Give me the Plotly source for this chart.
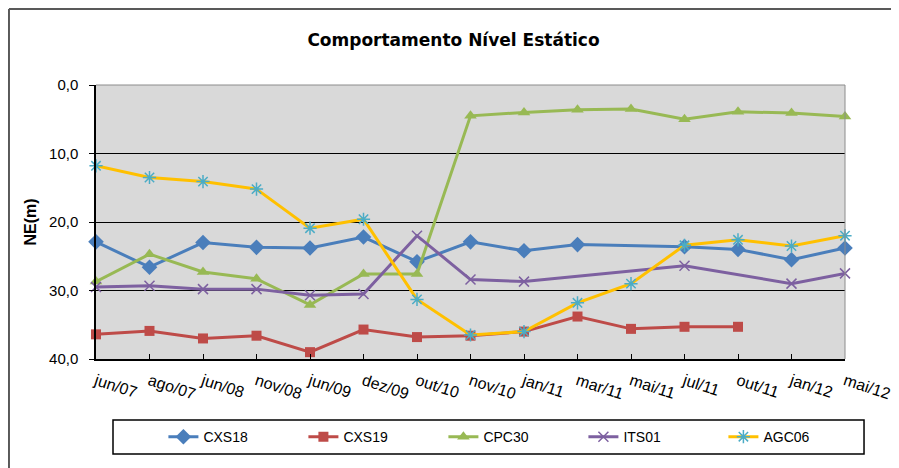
import plotly.graph_objects as go

datas = ['jun/07', 'ago/07', 'jun/08', 'nov/08', 'jun/09', 'dez/09', 'out/10', 'nov/10',
         'jan/11', 'mar/11', 'mai/11', 'jul/11', 'out/11', 'jan/12', 'mai/12']

cxs18 = [22.9, 26.6, 23.0, 23.7, 23.8, 22.2, 25.8, 22.9, 24.2, 23.3, None, 23.6, 24.0, 25.5, 23.8]
cxs19 = [36.4, 35.9, 37.0, 36.6, 39.0, 35.7, 36.8, 36.6, 36.0, 33.8, 35.6, 35.3, 35.3, None, None]
cpc30 = [28.7, 24.7, 27.3, 28.3, 32.1, 27.6, 27.6, 4.5, 4.0, 3.6, 3.5, 5.0, 3.9, 4.1, 4.6]
its01 = [29.5, 29.3, 29.8, 29.8, 30.7, 30.5, 22.0, 28.4, 28.7, None, None, 26.4, None, 29.0, 27.5]
agc06 = [11.8, 13.5, 14.1, 15.2, 20.9, 19.6, 31.3, 36.5, 36.0, 31.8, 29.0, 23.4, 22.6, 23.5, 22.0]

fig = go.Figure()

fig.add_trace(go.Scatter(x=datas, y=cxs18, name='CXS18', mode='lines+markers', connectgaps=True,
    line=dict(color='#4a7ebb', width=3), marker=dict(symbol='diamond', size=12, color='#4a7ebb'),
    cliponaxis=False))
fig.add_trace(go.Scatter(x=datas, y=cxs19, name='CXS19', mode='lines+markers',
    line=dict(color='#be4b48', width=3), marker=dict(symbol='square', size=10, color='#be4b48'),
    cliponaxis=False))
fig.add_trace(go.Scatter(x=datas, y=cpc30, name='CPC30', mode='lines+markers',
    line=dict(color='#98b954', width=3), marker=dict(symbol='triangle-up', size=11, color='#98b954'),
    cliponaxis=False))
fig.add_trace(go.Scatter(x=datas, y=its01, name='ITS01', mode='lines+markers', connectgaps=True,
    line=dict(color='#7d60a0', width=3),
    marker=dict(symbol='x-thin-open', size=10, color='#7d60a0', line=dict(color='#7d60a0', width=1.5)),
    cliponaxis=False))
fig.add_trace(go.Scatter(x=datas, y=agc06, name='AGC06', mode='lines+markers',
    line=dict(color='#ffc000', width=3),
    marker=dict(symbol='asterisk-open', size=11, color='#4bacc6', line=dict(color='#4bacc6', width=1.5)),
    cliponaxis=False))

# a pagina tem margem de 8px no body, por isso 891x460
fig.update_layout(
    width=891, height=460,
    margin=dict(l=88, r=54, t=77, b=109),
    paper_bgcolor='white',
    plot_bgcolor='#d9d9d9',
    separators=',.',
    font=dict(family='Liberation Sans, Arial, sans-serif', color='black'),
    title=dict(text='<b>Comportamento Nível Estático</b>', x=0.5, xanchor='center',
               y=0.93, yanchor='middle', font=dict(size=17, family='DejaVu Sans')),
    legend=dict(orientation='h', x=0.09, xanchor='left', y=-0.285, yanchor='middle',
                font=dict(size=14), entrywidth=95, bgcolor='rgba(0,0,0,0)'),
    xaxis=dict(type='category', range=[0, 14], showgrid=False, showline=True, automargin=False,
               linecolor='black', linewidth=1.5, ticks='inside', ticklen=5, tickcolor='black',
               tickangle=18, tickfont=dict(size=16), ticklabelstandoff=5),
    yaxis=dict(range=[40, 0], dtick=10, tickformat='.1f', showgrid=True, gridcolor='black',
               gridwidth=1, showline=True, linecolor='black', linewidth=1.5, ticks='outside',
               ticklen=5, tickcolor='black', tickfont=dict(size=15), zeroline=False,
               automargin=False, ticklabelstandoff=8,
               title=dict(text='<b>NE(m)</b>', font=dict(size=16), standoff=8)),
    shapes=[
        # moldura do grafico
        dict(type='line', xref='paper', yref='paper', x0=-0.1162, x1=1.2, y0=1.2774, y1=1.2774,
             line=dict(color='#595959', width=2)),
        dict(type='line', xref='paper', yref='paper', x0=-0.1162, x1=-0.1162, y0=1.2774, y1=-0.45,
             line=dict(color='#595959', width=2)),
        # bordas cinzas da area do grafico
        dict(type='line', xref='paper', yref='paper', x0=0, x1=1, y0=1, y1=1,
             line=dict(color='#8c8c8c', width=1)),
        dict(type='line', xref='paper', yref='paper', x0=1, x1=1, y0=0, y1=1,
             line=dict(color='#8c8c8c', width=1)),
        # caixa da legenda
        dict(type='rect', xref='paper', yref='paper', x0=0.0227, x1=1.0254, y0=-0.2226, y1=-0.3467,
             line=dict(color='black', width=1.5)),
    ],
)

fig.write_html('out.html')
